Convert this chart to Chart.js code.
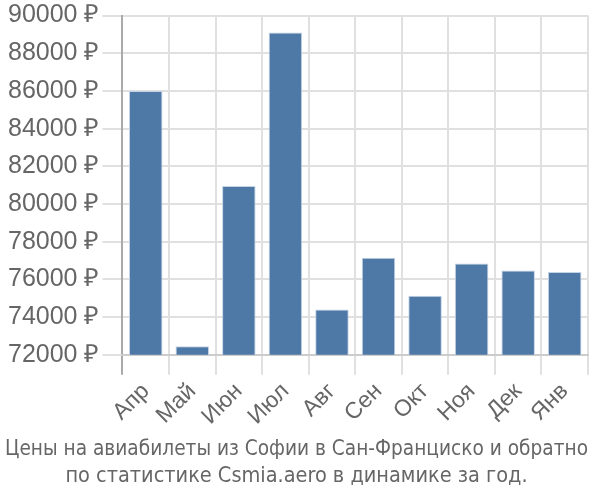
<!DOCTYPE html>
<html>
<head>
<meta charset="utf-8">
<script src="https://cdn.jsdelivr.net/npm/chart.js@4/dist/chart.umd.min.js"></script>
<style>
  body { margin: 0; background: #fff; }
  #wrap { width: 600px; height: 500px; }
</style>
</head>
<body>
<div id="wrap"><canvas id="priceChart"></canvas></div>
<script>
const months = ["Апр", "Май", "Июн", "Июл", "Авг", "Сен", "Окт", "Ноя", "Дек", "Янв"];
const prices = [86000, 72450, 80950, 89100, 74400, 77150, 75130, 76850, 76470, 76400];
const titleLines = [
  "Цены на авиабилеты из Софии в Сан-Франциско и обратно",
  "по статистике Csmia.aero в динамике за год."
];

const priceChart = document.getElementById("priceChart");

new Chart(priceChart, {
  type: "bar",
  data: {
    labels: months,
    datasets: [
      {
        data: prices,
        backgroundColor: "#4e79a7",
        borderColor: "#c4d3e6",
        borderWidth: 1,
      },
    ],
  },
  options: {
    responsive: true,
    maintainAspectRatio: false,
    animation: false,
    layout: { padding: { top: 0, right: 12, left: 5, bottom: 0 } },
    plugins: {
      legend: { display: false },
      tooltip: { enabled: false },
      title: {
        display: true,
        position: "bottom",
        text: titleLines,
        color: "#666",
        font: { family: "'DejaVu Sans Condensed', 'Liberation Sans'", size: 21.5, weight: "normal", lineHeight: 1.27 },
        padding: { top: 2, bottom: 10 },
      },
    },
    scales: {
      y: {
        min: 72000,
        max: 90000,
        ticks: {
          stepSize: 2000,
          color: "#666",
          font: { family: "'Liberation Sans', Arial", size: 25, lineHeight: 1.0 },
          callback: (v) => v + " ₽",
        },
        grid: { color: "#e0e0e0", lineWidth: 2, tickLength: 20 },
        border: { color: "#aaa", width: 2 },
      },
      x: {
        ticks: {
          color: "#666",
          font: { family: "'Liberation Sans', Arial", size: 23 },
          maxRotation: 45,
          minRotation: 45,
        },
        grid: {
          color: (ctx) => (ctx.index === 0 ? "#aaa" : "#e0e0e0"),
          lineWidth: 2,
          offset: true,
          tickLength: 20,
        },
        border: { color: "#ccc", width: 2 },
      },
    },
  },
});
</script>
</body>
</html>
